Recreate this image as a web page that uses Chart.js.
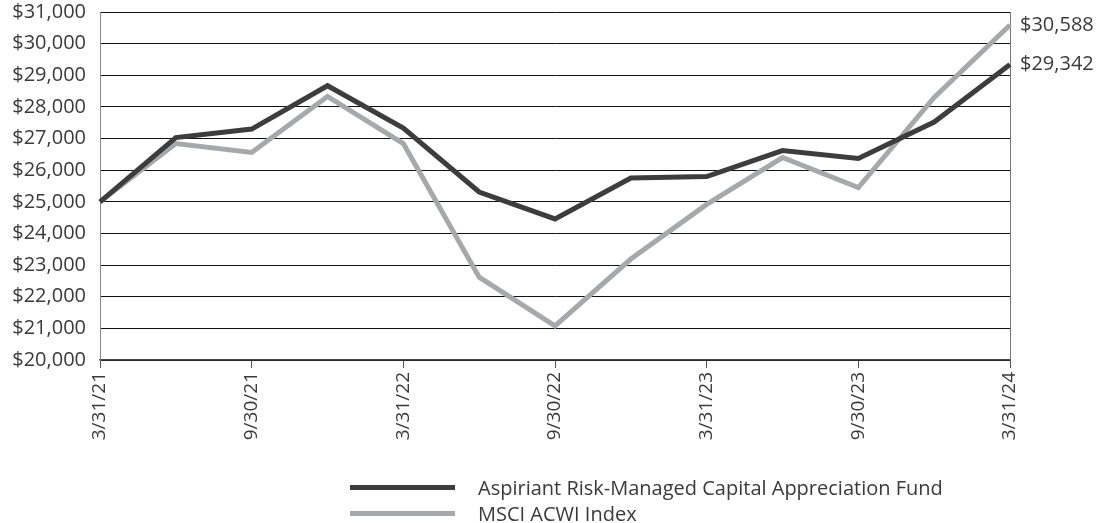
<!DOCTYPE html>
<html>
<head>
<meta charset="utf-8">
<script src="https://cdn.jsdelivr.net/npm/chart.js@4"></script>
<style>
  body { margin: 0; background: #fff; font-family: "Open Sans", sans-serif; }
  #wrap { position: relative; width: 1109px; height: 523px; }
  #legend { position: absolute; left: 350px; top: 474px; color: #3a3a3a; font-size: 20px; }
  .item { display: flex; align-items: center; height: 26px; }
  .swatch { width: 105px; height: 5px; margin-right: 23px; }
</style>
</head>
<body>
<div id="wrap">
  <canvas id="growthChart" width="1109" height="523"></canvas>
  <div id="legend"></div>
</div>
<script>
const dates = ['3/31/21', '6/30/21', '9/30/21', '12/31/21', '3/31/22', '6/30/22', '9/30/22',
               '12/31/22', '3/31/23', '6/30/23', '9/30/23', '12/31/23', '3/31/24'];
const fundValues = [25000, 27030, 27300, 28670, 27330, 25310, 24460, 25750, 25800, 26620, 26370, 27520, 29342];
const indexValues = [25000, 26840, 26560, 28330, 26840, 22620, 21080, 23190, 24920, 26400, 25450, 28300, 30588];
const seriesNames = ['Aspiriant Risk-Managed Capital Appreciation Fund', 'MSCI ACWI Index'];
const seriesColors = ['#3d3d3d', '#a7a8aa'];
const yMin = 20000, yMax = 31000, yStep = 1000;

const textColor = '#3a3a3a';
const fmt = v => '$' + v.toLocaleString('en-US');

const edgePlugin = {
    id: 'edge',
    beforeDatasetsDraw(chart) {
        const { ctx, chartArea } = chart;
        ctx.save();
        ctx.strokeStyle = '#777';
        ctx.lineWidth = 1;
        ctx.beginPath();
        ctx.moveTo(chartArea.right + 0.5, chartArea.top);
        ctx.lineTo(chartArea.right + 0.5, chartArea.bottom);
        ctx.stroke();
        ctx.restore();
    },
    afterDatasetsDraw(chart) {
        const { ctx } = chart;
        ctx.save();
        ctx.fillStyle = textColor;
        ctx.font = '20px "Open Sans"';
        ctx.textBaseline = 'middle';
        chart.data.datasets.forEach((ds, i) => {
            const pts = chart.getDatasetMeta(i).data;
            const last = pts[pts.length - 1];
            ctx.fillText(fmt(ds.data[ds.data.length - 1]), last.x + 10, last.y);
        });
        ctx.restore();
    }
};

const chart = new Chart(document.getElementById('growthChart'), {
    type: 'line',
    data: {
        labels: dates,
        datasets: [
            { label: seriesNames[0], data: fundValues, borderColor: seriesColors[0], borderWidth: 5, pointRadius: 0, tension: 0 },
            { label: seriesNames[1], data: indexValues, borderColor: seriesColors[1], borderWidth: 5, pointRadius: 0, tension: 0 }
        ]
    },
    options: {
        responsive: false,
        animation: false,
        layout: { padding: { top: 12, right: 99, left: 0, bottom: 0 } },
        plugins: { legend: { display: false }, tooltip: { enabled: false } },
        scales: {
            x: {
                offset: false,
                grid: {
                    drawOnChartArea: false,
                    tickLength: 8,
                    color: c => (c.index % 2 === 0 ? '#555' : 'rgba(0,0,0,0)')
                },
                border: { color: '#444', width: 1.5 },
                ticks: {
                    autoSkip: false,
                    maxRotation: 90,
                    minRotation: 90,
                    padding: 4,
                    color: textColor,
                    font: { family: 'Open Sans', size: 19 },
                    callback: (v, i) => (i % 2 === 0 ? dates[i] : '')
                },
                afterFit: s => { s.height = 163; }
            },
            y: {
                min: yMin,
                max: yMax,
                grid: { color: '#111', lineWidth: 1, drawTicks: false },
                border: { color: '#888', width: 1 },
                ticks: {
                    stepSize: yStep,
                    padding: 14,
                    color: textColor,
                    font: { family: 'Open Sans', size: 20 },
                    callback: v => fmt(v)
                },
                afterFit: s => { s.width = 100; s.paddingTop = 0; s.paddingBottom = 0; }
            }
        }
    },
    plugins: [edgePlugin]
});

const legend = document.getElementById('legend');
seriesNames.forEach((name, i) => {
    const row = document.createElement('div');
    row.className = 'item';
    row.innerHTML = `<span class="swatch" style="background:${seriesColors[i]}"></span><span>${name}</span>`;
    legend.appendChild(row);
});
</script>
</body>
</html>
